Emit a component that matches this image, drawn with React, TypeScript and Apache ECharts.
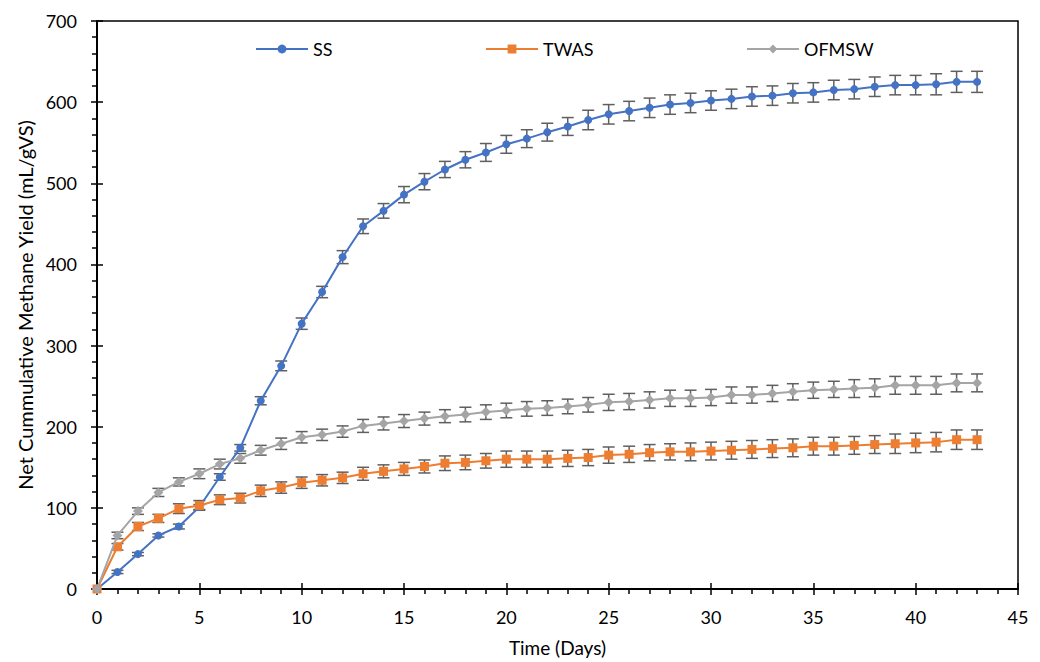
import React, { useEffect, useRef } from "react";
import * as echarts from "echarts";

const days = [0,1,2,3,4,5,6,7,8,9,10,11,12,13,14,15,16,17,18,19,20,21,22,23,24,25,26,27,28,29,30,31,32,33,34,35,36,37,38,39,40,41,42,43];

const ssValues = [0,21,43,66,77,101,138,174,232,275,327,366,409,447,466,486,502,517,529,538,548,555,563,570,578,585,589,593,597,599,602,604,607,608,611,612,615,616,619,621,621,622,625,625];
const ssErrors = [0,2,2,2,3,3,4,4,5,6,7,7,8,9,9,10,10,10,10,11,11,11,11,11,12,12,12,12,12,12,12,12,12,12,12,12,12,12,12,12,12,13,13,13];

const twasValues = [0,52,77,87,99,103,110,112,121,125,131,134,137,142,145,148,151,155,156,158,160,160,160,161,162,165,166,168,169,169,170,171,172,173,174,176,176,177,178,179,180,181,184,184];
const twasErrors = [0,4,5,5,6,6,6,6,7,7,7,7,7,8,8,8,8,9,9,9,10,10,10,10,10,10,10,10,10,11,11,11,11,11,11,11,11,11,11,12,12,12,12,12];

const ofmswValues = [0,66,96,119,132,142,154,161,171,179,187,190,194,201,204,207,210,213,215,218,220,222,223,225,227,230,231,233,235,235,236,239,239,241,243,245,246,247,248,251,251,251,254,254];
const ofmswErrors = [0,4,4,5,5,6,6,6,6,7,7,7,7,8,8,8,8,8,9,9,9,9,9,9,9,10,10,10,10,10,10,10,10,10,10,10,10,11,11,11,11,11,11,11];

const seriesNames = ["SS", "TWAS", "OFMSW"];
const seriesColors = ["#4472C4", "#ED7D31", "#A5A5A5"];
const xTicks = { min: 0, max: 45, interval: 5 };
const yTicks = { min: 0, max: 700, interval: 100 };

const FONT = "Lato";

function errorData(vals: number[], errs: number[]) {
  const out: number[][] = [];
  days.forEach((d, i) => {
    if (errs[i] > 0) out.push([d, vals[i] - errs[i], vals[i] + errs[i]]);
  });
  return out;
}

const renderErr = (params: any, api: any) => {
  const x = api.value(0);
  const lo = api.value(1);
  const hi = api.value(2);
  const p1 = api.coord([x, hi]);
  const p2 = api.coord([x, lo]);
  const w = 6;
  const style = { stroke: "#5f5f5f", lineWidth: 1.5 };
  return {
    type: "group",
    children: [
      { type: "line", shape: { x1: p1[0], y1: p1[1], x2: p2[0], y2: p2[1] }, style },
      { type: "line", shape: { x1: p1[0] - w, y1: p1[1], x2: p1[0] + w, y2: p1[1] }, style },
      { type: "line", shape: { x1: p2[0] - w, y1: p2[1], x2: p2[0] + w, y2: p2[1] }, style },
    ],
  };
};

export default function App() {
  const ref = useRef<HTMLDivElement>(null);
  useEffect(() => {
    if (!ref.current) return;
    const chart = echarts.init(ref.current, null, { renderer: "svg" });
    const allVals = [ssValues, twasValues, ofmswValues];
    const allErrs = [ssErrors, twasErrors, ofmswErrors];
    const symbols = ["circle", "rect", "diamond"];
    const symbolSizes = [8, 9, 10];

    const errSeries = seriesNames.map((n, i) => ({
      type: "custom",
      name: n + " err",
      renderItem: renderErr,
      data: errorData(allVals[i], allErrs[i]),
      encode: { x: 0, y: [1, 2] },
      z: 1,
      silent: true,
    }));
    const lineSeries = seriesNames.map((n, i) => ({
      type: "line",
      name: n,
      data: days.map((d, j) => [d, allVals[i][j]]),
      symbol: symbols[i],
      symbolSize: symbolSizes[i],
      showAllSymbol: true,
      lineStyle: { color: seriesColors[i], width: 2 },
      itemStyle: { color: seriesColors[i] },
      z: 2 + i,
    }));

    const legendLefts = [255, 485, 746];
    const axisCommon = {
      axisLine: { show: true, lineStyle: { color: "#000", width: 2 } },
      splitLine: { show: false },
    };

    chart.setOption({
      animation: false,
      backgroundColor: "#fff",
      textStyle: { fontFamily: FONT },
      grid: {
        left: 97,
        right: 22,
        top: 21,
        bottom: 73,
        show: true,
        borderColor: "#000",
        borderWidth: 1.5,
        backgroundColor: "transparent",
      },
      legend: seriesNames.map((n, i) => ({
        data: [n],
        left: legendLefts[i],
        top: 40,
        padding: 0,
        itemWidth: 52,
        itemHeight: 11,
        textStyle: { fontFamily: FONT, fontSize: 18, color: "#000" },
      })),
      xAxis: [
        {
          type: "value",
          ...xTicks,
          ...axisCommon,
          name: "Time (Days)",
          nameLocation: "middle",
          nameGap: 49,
          nameTextStyle: { fontFamily: FONT, fontSize: 19, color: "#000" },
          axisTick: { show: true, length: 6, lineStyle: { color: "#000", width: 1.5 } },
          minorTick: { show: true, splitNumber: 5, length: 5, lineStyle: { color: "#000", width: 1.5 } },
          axisLabel: { margin: 19, fontFamily: FONT, fontSize: 18, color: "#000" },
        },
        {
          type: "value",
          ...xTicks,
          position: "bottom",
          axisLine: { show: false },
          splitLine: { show: false },
          axisTick: { show: true, inside: true, length: 6, lineStyle: { color: "#000", width: 1.5 } },
          axisLabel: { show: false },
        },
      ],
      yAxis: [
        {
          type: "value",
          ...yTicks,
          ...axisCommon,
          name: "Net Cummulative Methane Yield (mL/gVS)",
          nameLocation: "middle",
          nameGap: 58,
          nameTextStyle: { fontFamily: FONT, fontSize: 20, color: "#000" },
          axisTick: { show: true, length: 6, lineStyle: { color: "#000", width: 1.5 } },
          minorTick: { show: true, splitNumber: 5, length: 5, lineStyle: { color: "#000", width: 1.5 } },
          axisLabel: { margin: 20, fontFamily: FONT, fontSize: 18, color: "#000" },
        },
        {
          type: "value",
          ...yTicks,
          position: "left",
          axisLine: { show: false },
          splitLine: { show: false },
          axisTick: { show: true, inside: true, length: 6, lineStyle: { color: "#000", width: 1.5 } },
          axisLabel: { show: false },
        },
      ],
      series: [...errSeries, ...lineSeries],
    });
    return () => chart.dispose();
  }, []);
  return (
    <div
      ref={ref}
      style={{ position: "fixed", left: 0, top: 0, width: 1040, height: 662, background: "#fff" }}
    />
  );
}
